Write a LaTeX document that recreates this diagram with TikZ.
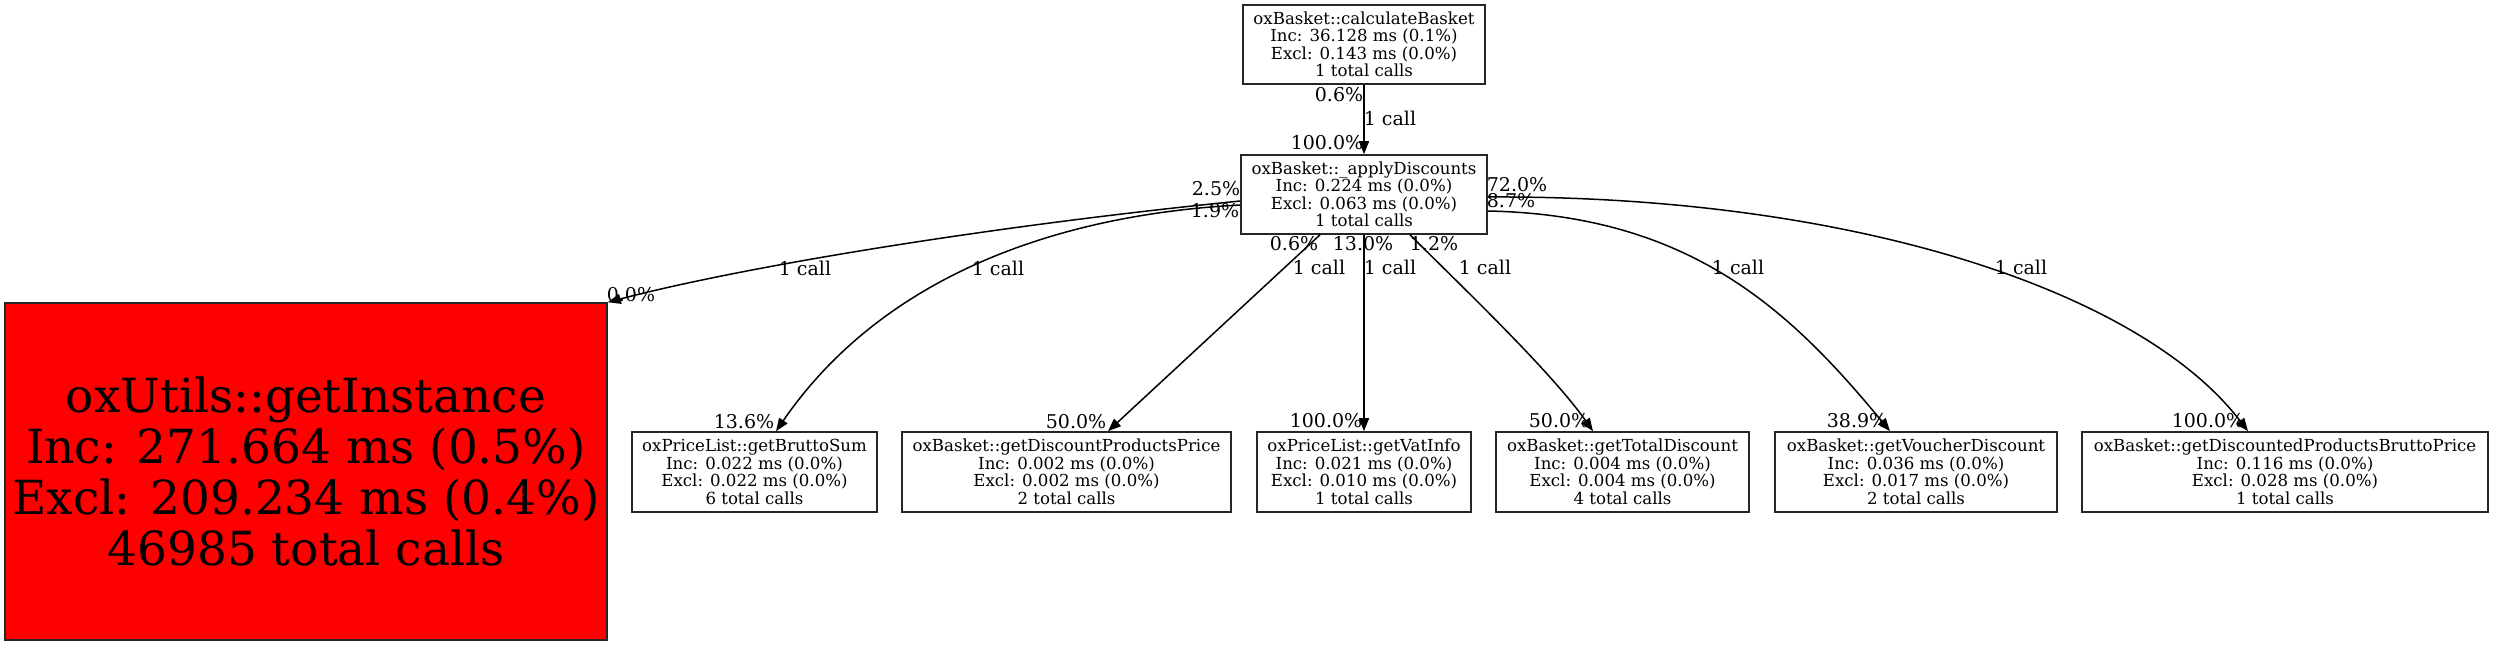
\documentclass[tikz,border=0pt]{standalone}
\usepackage{fontspec}
\setmainfont{DejaVu Serif}
\usetikzlibrary{arrows.meta,calc}
\tikzset{
  fbox/.style={draw=black!85, line width=1.6pt, rectangle, inner sep=0pt, align=center,
    font=\fontsize{16.6}{17.5}\selectfont},
  bigbox/.style={fbox, fill=red, font=\fontsize{47}{51}\selectfont},
  elab/.style={inner sep=0pt, font=\fontsize{19}{20}\selectfont},
  edge/.style={line width=1.5pt, -{Triangle[length=13pt,width=10pt]}},
}
\begin{document}
\begin{tikzpicture}[x=1pt,y=-1pt]
\useasboundingbox (0,0) rectangle (2493,645);
% nodes
\node[fbox, minimum width=242pt, minimum height=79pt] (cb) at (1364,44.5)
  {oxBasket::calculateBasket\\Inc: 36.128 ms (0.1\%)\\Excl: 0.143 ms (0.0\%)\\1 total calls};
\node[fbox, minimum width=246pt, minimum height=79pt] (ad) at (1364,194.5)
  {oxBasket::\_applyDiscounts\\Inc: 0.224 ms (0.0\%)\\Excl: 0.063 ms (0.0\%)\\1 total calls};
\node[bigbox, minimum width=602pt, minimum height=337pt] (gi) at (306,471.5)
  {oxUtils::getInstance\\Inc: 271.664 ms (0.5\%)\\Excl: 209.234 ms (0.4\%)\\46985 total calls};
\node[fbox, minimum width=245pt, minimum height=80pt] (bs) at (754.5,472)
  {oxPriceList::getBruttoSum\\Inc: 0.022 ms (0.0\%)\\Excl: 0.022 ms (0.0\%)\\6 total calls};
\node[fbox, minimum width=329pt, minimum height=80pt] (dp) at (1066.5,472)
  {oxBasket::getDiscountProductsPrice\\Inc: 0.002 ms (0.0\%)\\Excl: 0.002 ms (0.0\%)\\2 total calls};
\node[fbox, minimum width=214pt, minimum height=80pt] (vi) at (1364,472)
  {oxPriceList::getVatInfo\\Inc: 0.021 ms (0.0\%)\\Excl: 0.010 ms (0.0\%)\\1 total calls};
\node[fbox, minimum width=253pt, minimum height=80pt] (td) at (1622.5,472)
  {oxBasket::getTotalDiscount\\Inc: 0.004 ms (0.0\%)\\Excl: 0.004 ms (0.0\%)\\4 total calls};
\node[fbox, minimum width=282pt, minimum height=80pt] (vd) at (1916,472)
  {oxBasket::getVoucherDiscount\\Inc: 0.036 ms (0.0\%)\\Excl: 0.017 ms (0.0\%)\\2 total calls};
\node[fbox, minimum width=406pt, minimum height=80pt] (dbp) at (2285,472)
  {oxBasket::getDiscountedProductsBruttoPrice\\Inc: 0.116 ms (0.0\%)\\Excl: 0.028 ms (0.0\%)\\1 total calls};
% edges
\draw[edge] (cb.south) -- (ad.north);
\draw[edge] ($(ad.west)+(0,6.5)$) .. controls (1000,225) and (750,265) .. (gi.north east);
\draw[edge] ($(ad.west)+(0,10.5)$) .. controls (1050,215) and (880,280) .. ($(bs.north)+(21.5,0)$);
\draw[edge] ($(ad.south)+(-44,0)$) -- ($(dp.north)+(41.5,0)$);
\draw[edge] (ad.south) -- (vi.north);
\draw[edge] ($(ad.south)+(46,0)$) .. controls (1455,280) and (1550,370) .. ($(td.north)+(-29.5,0)$);
\draw[edge] ($(ad.east)+(0,16.5)$) .. controls (1690,215) and (1790,310) .. ($(vd.north)+(-26,0)$);
\draw[edge] ($(ad.east)+(0,2.5)$) .. controls (1850,195) and (2140,290) .. ($(dbp.north)+(-37,0)$);
% edge labels
\node[elab] (l0t) at (1339,95) {0.6\%};
\node[elab] (l0m) at (1390,118) {1 call};
\node[elab] (l0h) at (1327,143) {100.0\%};
\node[elab] (l1t) at (1216,189) {2.5\%};
\node[elab] (l1m) at (805,268) {1 call};
\node[elab] (l1h) at (631,295) {0.0\%};
\node[elab] (l2t) at (1215,211) {1.9\%};
\node[elab] (l2m) at (998,268) {1 call};
\node[elab] (l2h) at (744,422) {13.6\%};
\node[elab] (l3t) at (1294,244) {0.6\%};
\node[elab] (l3m) at (1319,267) {1 call};
\node[elab] (l3h) at (1076,422) {50.0\%};
\node[elab] (l4t) at (1363,244) {13.0\%};
\node[elab] (l4m) at (1390,267) {1 call};
\node[elab] (l4h) at (1326,421) {100.0\%};
\node[elab] (l5t) at (1434,244) {1.2\%};
\node[elab] (l5m) at (1485,267) {1 call};
\node[elab] (l5h) at (1559,421) {50.0\%};
\node[elab] (l6t) at (1511,201) {8.7\%};
\node[elab] (l6m) at (1738,267) {1 call};
\node[elab] (l6h) at (1857,421) {38.9\%};
\node[elab] (l7t) at (1517,185) {72.0\%};
\node[elab] (l7m) at (2021,267) {1 call};
\node[elab] (l7h) at (2208,421) {100.0\%};
\end{tikzpicture}
\end{document}
